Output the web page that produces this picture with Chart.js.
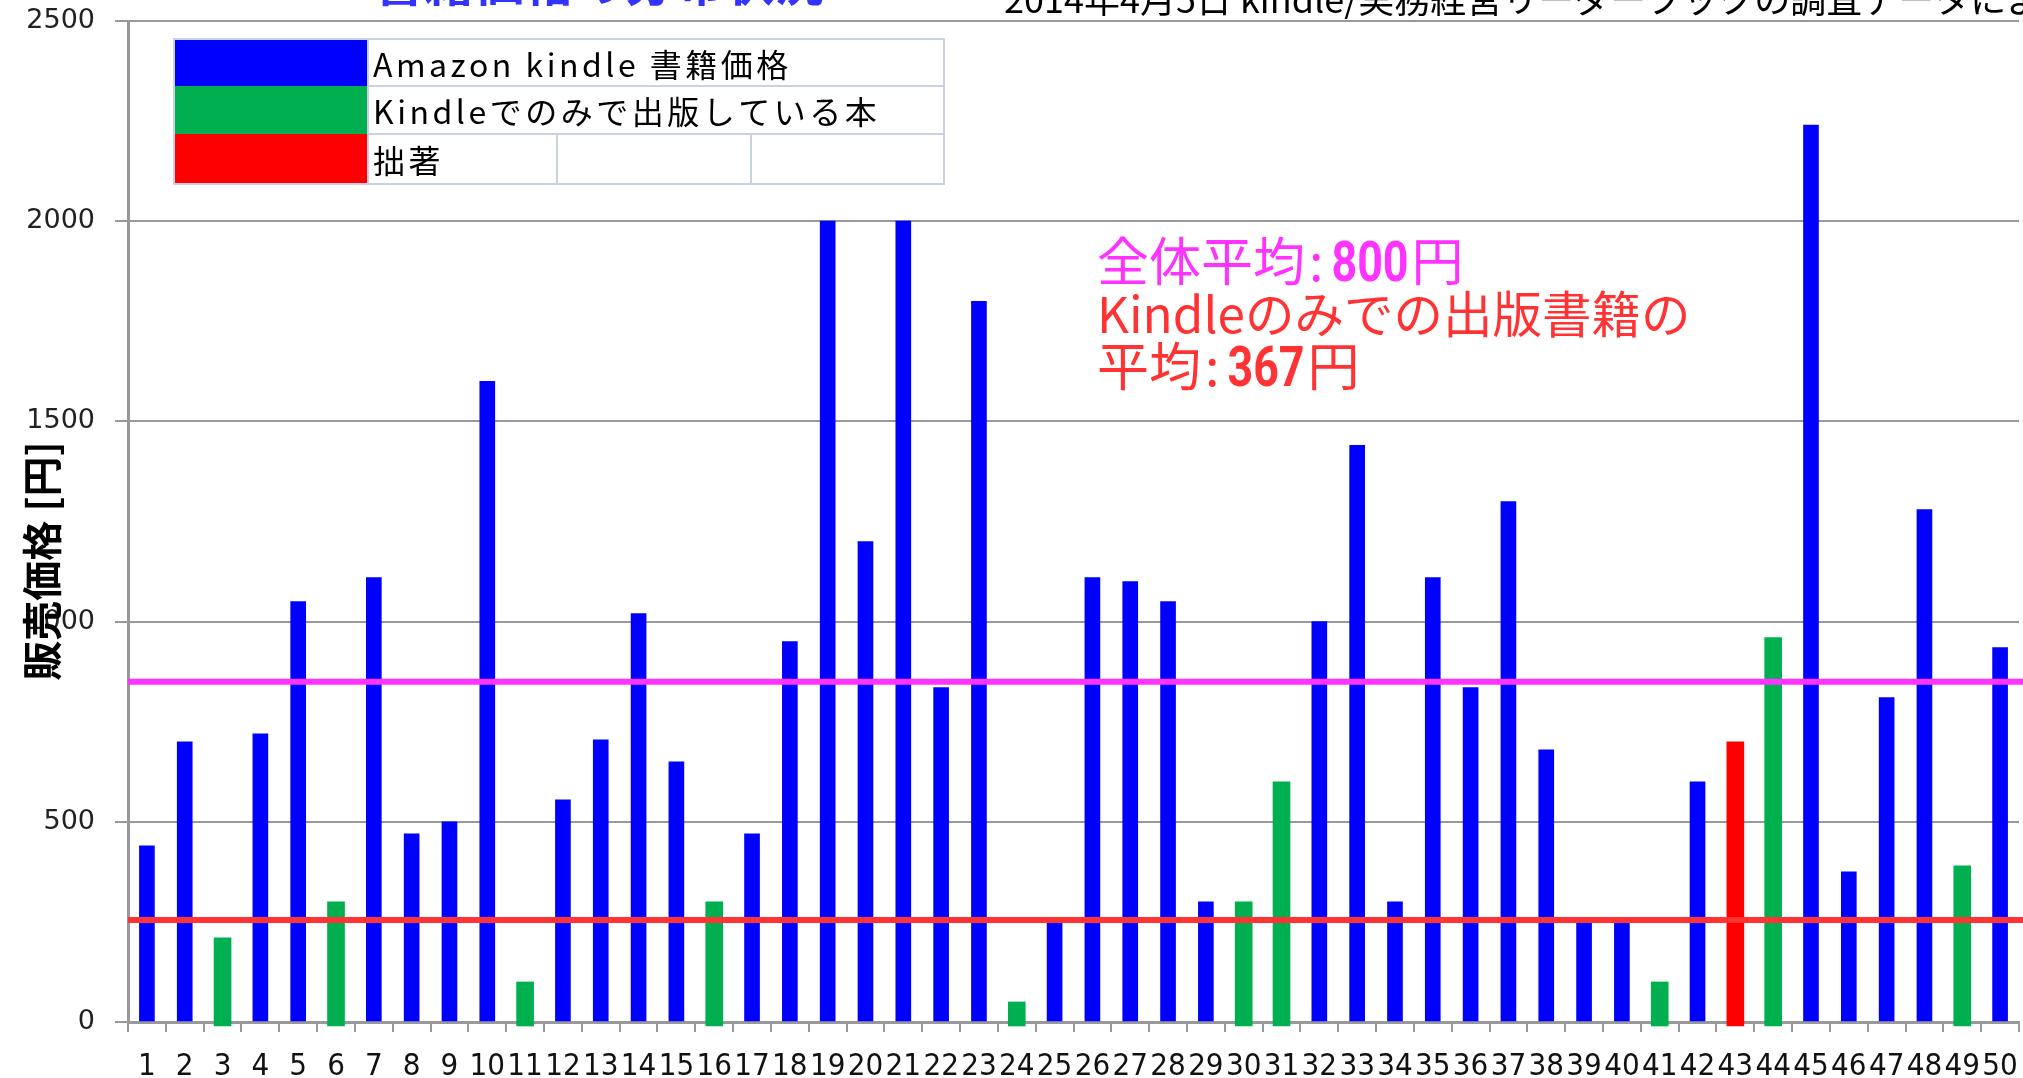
<!DOCTYPE html>
<html><head><meta charset="utf-8">
<script src="https://cdn.jsdelivr.net/npm/chart.js@4/dist/chart.umd.min.js"></script>
<style>html,body{margin:0;padding:0;background:#fff;overflow:hidden}#wrap{width:2023px;height:1078px;position:relative}</style>
</head><body><div id="wrap"><canvas id="c"></canvas></div>
<script>
// ---- data ----
const categories = ['1','2','3','4','5','6','7','8','9','10','11','12','13','14','15','16','17','18','19','20','21','22','23','24','25','26','27','28','29','30','31','32','33','34','35','36','37','38','39','40','41','42','43','44','45','46','47','48','49','50'];
const prices = [440,700,210,720,1050,300,1110,470,500,1600,100,555,705,1020,650,300,470,950,2000,1200,2000,835,1800,50,255,1110,1100,1050,300,300,600,1000,1440,300,1110,835,1300,680,255,255,100,600,700,960,2240,375,810,1280,390,935];
// A = Amazon kindle, K = Kindle only, M = own book
const bookTypes = ['A','A','K','A','A','K','A','A','A','A','K','A','A','A','A','K','A','A','A','A','A','A','A','K','A','A','A','A','A','K','K','A','A','A','A','A','A','A','A','A','K','A','M','K','A','A','A','A','K','A'];
const seriesKeys = ['A','K','M'];
const seriesNames = ['Amazon kindle 書籍価格','Kindleでのみで出版している本','拙著'];
const seriesColors = ['#0000ff','#00b050','#ff0000'];
const yTicks = [0,500,1000,1500,2000,2500];
const overallAvgLine = 850;
const kindleOnlyAvgLine = 255;
const yTitle = '販売価格 [円]';
const noteText = '2014年4月5日 kindle/実務経営リーダーブックの調査データによる';
const topTitle = '書籍価格の分布状況';

const datasets = seriesKeys.map((k, si) => ({
  label: seriesNames[si],
  data: prices.map((v, i) => bookTypes[i] === k ? v : null),
  backgroundColor: seriesColors[si],
  barThickness: si === 0 ? 15 : 17,
  base: si === 0 ? 0 : -10,
  clip: si === 0 ? 0 : 8,
  grouped: false,
  order: si
}));

function drawCondensed(ctx, txt, x, y, font, sx) {
  ctx.save();
  ctx.font = font;
  ctx.translate(x, y);
  ctx.scale(sx, 1);
  ctx.fillText(txt, 0, 0);
  const w = ctx.measureText(txt).width * sx;
  ctx.restore();
  return w;
}

const overlay = {
  id: 'overlay',
  afterDatasetsDraw(chart) {
    const {ctx, chartArea: a, scales: {y}} = chart;
    ctx.save();
    ctx.lineWidth = 6;
    [[overallAvgLine, '#ff33ff'], [kindleOnlyAvgLine, '#ff3333']].forEach(([v, c]) => {
      const py = y.getPixelForValue(v);
      ctx.strokeStyle = c;
      ctx.beginPath(); ctx.moveTo(a.left, py); ctx.lineTo(chart.width, py); ctx.stroke();
    });
    ctx.restore();
  },
  afterDraw(chart) {
    const ctx = chart.ctx;
    ctx.save();
    // legend table
    const L = 174, R = 944, sw = 368, rows = [39, 86, 134, 184];
    rows.slice(0, 3).forEach((t, i) => {
      ctx.fillStyle = seriesColors[i];
      ctx.fillRect(L, t, sw - L, rows[i + 1] - t);
    });
    ctx.strokeStyle = '#c9d1e3';
    ctx.lineWidth = 2;
    ctx.strokeRect(L, rows[0], R - L, rows[3] - rows[0]);
    ctx.beginPath();
    [86, 134].forEach(yy => { ctx.moveTo(sw, yy); ctx.lineTo(R, yy); });
    ctx.moveTo(sw, rows[0]); ctx.lineTo(sw, rows[3]);
    [557, 751].forEach(xx => { ctx.moveTo(xx, 134); ctx.lineTo(xx, 184); });
    ctx.stroke();
    ctx.fillStyle = '#000';
    ctx.font = '32px "Noto Sans CJK JP"';
    ctx.letterSpacing = '3.5px';
    ctx.textBaseline = 'middle';
    ctx.textAlign = 'left';
    seriesNames.forEach((n, i) => ctx.fillText(n, sw + 5, (rows[i] + rows[i + 1]) / 2 + 2));
    ctx.letterSpacing = '0px';

    // annotation text
    const ax = 1097;
    ctx.textBaseline = 'alphabetic';
    ctx.fillStyle = '#ff33ff';
    const cj = '52px "Noto Sans CJK JP"';
    const dg = 'bold 56px "Roboto"';
    let x = ax;
    ctx.font = cj;
    ctx.fillText('全体平均', x, 281); x += ctx.measureText('全体平均').width;
    ctx.fillText(':', x + 4, 281); x += ctx.measureText(':').width + 12;
    x += drawCondensed(ctx, '800', x, 281, dg, 0.8);
    ctx.font = cj;
    ctx.fillText('円', x + 3, 281);
    ctx.fillStyle = '#ff3333';
    ctx.font = '49.5px "Noto Sans CJK JP"';
    ctx.fillText('Kindleのみでの出版書籍の', ax, 333);
    x = ax;
    ctx.font = cj;
    ctx.fillText('平均', x, 386); x += ctx.measureText('平均').width;
    ctx.fillText(':', x + 4, 386); x += ctx.measureText(':').width + 12;
    x += drawCondensed(ctx, '367', x, 386, dg, 0.8);
    ctx.font = cj;
    ctx.fillText('円', x + 3, 386);

    // y title
    ctx.save();
    ctx.translate(42, 561);
    ctx.rotate(-Math.PI / 2);
    ctx.textAlign = 'center';
    ctx.textBaseline = 'middle';
    ctx.fillStyle = '#000';
    ctx.font = 'bold 40px "Noto Sans CJK JP"';
    ctx.fillText(yTitle, 0, 0);
    ctx.restore();

    // clipped texts at top
    ctx.textAlign = 'left';
    ctx.textBaseline = 'alphabetic';
    ctx.fillStyle = '#000';
    ctx.font = '36px "Noto Sans CJK JP"';
    ctx.fillText(noteText, 1004, 13);
    ctx.fillStyle = '#3333ff';
    ctx.font = 'bold 50px "Noto Sans CJK JP"';
    ctx.fillText(topTitle, 374, 1);
    ctx.restore();
  }
};

new Chart(document.getElementById('c'), {
  type: 'bar',
  data: { labels: categories, datasets },
  options: {
    responsive: true,
    maintainAspectRatio: false,
    animation: false,
    layout: { padding: { top: 21, right: 4, left: 0, bottom: 0 } },
    plugins: { legend: { display: false }, tooltip: { enabled: false } },
    scales: {
      x: {
        offset: true,
        grid: { display: true, drawOnChartArea: false, drawTicks: true, tickLength: 10, color: '#999', lineWidth: 2, offset: true },
        border: { color: '#999', width: 3 },
        ticks: { autoSkip: false, maxRotation: 0, minRotation: 0, padding: 16, color: '#111',
                 font: { family: '"DejaVu Sans Condensed", "DejaVu Sans"', size: 31 } },
        afterFit(s) { s.height = 56; s.paddingLeft = 0; s.paddingRight = 0; }
      },
      y: {
        min: 0, max: 2500,
        afterBuildTicks(s) { s.ticks = yTicks.map(v => ({ value: v })); },
        ticks: { padding: 20, color: '#222', font: { family: '"DejaVu Sans"', size: 27 },
                 callback: v => String(v) },
        grid: { color: '#999', lineWidth: 2, tickLength: 13 },
        border: { color: '#999', width: 3 },
        afterFit(s) { s.width = 128; s.paddingTop = 0; s.paddingBottom = 0; }
      }
    }
  },
  plugins: [overlay]
});
</script></body></html>
